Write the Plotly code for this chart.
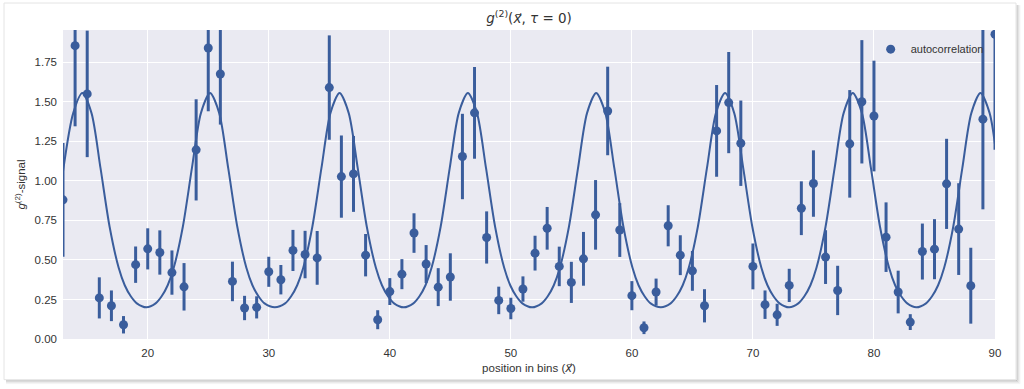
import plotly.graph_objects as go

# measured autocorrelation
positions = list(range(13, 91))
g2_values = [0.88, 1.855, 1.55, 0.26, 0.21, 0.09, 0.47, 0.57, 0.547, 0.42,
             0.33, 1.196, 1.84, 1.676, 0.364, 0.196, 0.20, 0.425, 0.375, 0.56,
             0.534, 0.513, 1.59, 1.027, 1.044, 0.53, 0.122, 0.30, 0.41, 0.67,
             0.474, 0.328, 0.392, 1.154, 1.43, 0.642, 0.244, 0.193, 0.316, 0.543,
             0.70, 0.459, 0.358, 0.507, 0.785, 1.442, 0.689, 0.274, 0.071, 0.297,
             0.716, 0.53, 0.431, 0.21, 1.316, 1.495, 1.238, 0.459, 0.217, 0.153,
             0.339, 0.827, 0.983, 0.518, 0.307, 1.234, 1.50, 1.41, 0.644, 0.297,
             0.107, 0.553, 0.568, 0.981, 0.695, 0.337, 1.39, 1.927]
g2_errors = [0.36, 0.51, 0.40, 0.13, 0.097, 0.055, 0.115, 0.13, 0.14, 0.14,
             0.15, 0.32, 0.40, 0.32, 0.125, 0.077, 0.07, 0.095, 0.093, 0.13,
             0.15, 0.17, 0.33, 0.26, 0.24, 0.134, 0.06, 0.085, 0.095, 0.125,
             0.12, 0.12, 0.15, 0.27, 0.29, 0.165, 0.087, 0.068, 0.08, 0.11,
             0.135, 0.125, 0.13, 0.17, 0.22, 0.28, 0.17, 0.092, 0.04, 0.085,
             0.13, 0.126, 0.126, 0.105, 0.29, 0.32, 0.27, 0.145, 0.09, 0.07,
             0.105, 0.17, 0.21, 0.17, 0.156, 0.34, 0.39, 0.35, 0.22, 0.135,
             0.05, 0.177, 0.19, 0.285, 0.29, 0.24, 0.57, 0.73]

# fitted curve
fit_x = [13.0, 13.85, 14.6, 15.35, 16.1, 16.85, 17.6, 18.1, 18.6, 19.1, 19.9,
         20.65, 21.15, 21.65, 22.15, 22.9, 23.65, 24.4, 25.15, 25.9, 26.65, 27.4, 28.15, 28.65, 29.15, 29.65, 30.5,
         31.35, 31.85, 32.35, 32.85, 33.6, 34.35, 35.1, 35.85, 36.6, 37.35, 38.1, 38.85, 39.35, 39.85, 40.35, 41.15,
         41.95, 42.45, 42.95, 43.45, 44.2, 44.95, 45.7, 46.45, 47.2, 47.95, 48.7, 49.45, 49.95, 50.45, 50.95, 51.75,
         52.55, 53.05, 53.55, 54.05, 54.8, 55.55, 56.3, 57.05, 57.8, 58.55, 59.3, 60.05, 60.55, 61.05, 61.55, 62.4,
         63.2, 63.7, 64.2, 64.7, 65.45, 66.2, 66.95, 67.7, 68.45, 69.2, 69.95, 70.7, 71.2, 71.7, 72.2, 73.0,
         73.75, 74.25, 74.75, 75.25, 76.0, 76.75, 77.5, 78.25, 79.0, 79.75, 80.5, 81.25, 81.75, 82.25, 82.75, 83.5,
         84.3, 84.8, 85.3, 85.8, 86.55, 87.3, 88.05, 88.8, 89.55, 90.0]
fit_y = [1.06, 1.43, 1.555, 1.43, 1.08, 0.71, 0.45, 0.34, 0.27, 0.225, 0.20,
         0.225, 0.27, 0.34, 0.45, 0.71, 1.08, 1.43, 1.555, 1.43, 1.08, 0.71, 0.45, 0.34, 0.27, 0.225, 0.20,
         0.225, 0.27, 0.34, 0.45, 0.71, 1.08, 1.43, 1.555, 1.43, 1.08, 0.71, 0.45, 0.34, 0.27, 0.225, 0.20,
         0.225, 0.27, 0.34, 0.45, 0.71, 1.08, 1.43, 1.555, 1.43, 1.08, 0.71, 0.45, 0.34, 0.27, 0.225, 0.20,
         0.225, 0.27, 0.34, 0.45, 0.71, 1.08, 1.43, 1.555, 1.43, 1.08, 0.71, 0.45, 0.34, 0.27, 0.225, 0.20,
         0.225, 0.27, 0.34, 0.45, 0.71, 1.08, 1.43, 1.555, 1.43, 1.08, 0.71, 0.45, 0.34, 0.27, 0.225, 0.20,
         0.225, 0.27, 0.34, 0.45, 0.71, 1.08, 1.43, 1.555, 1.43, 1.08, 0.71, 0.45, 0.34, 0.27, 0.225, 0.20,
         0.225, 0.27, 0.34, 0.45, 0.71, 1.08, 1.43, 1.555, 1.43, 1.23]

x_ticks = [20, 30, 40, 50, 60, 70, 80, 90]
y_ticks = [0.0, 0.25, 0.5, 0.75, 1.0, 1.25, 1.5, 1.75]

blue = "#3a5d9c"
font_fam = "Liberation Sans, Arial, sans-serif"
vec_x = '<span style="font-family:DejaVu Sans"><i>x⃗</i></span>'

fig = go.Figure()
fig.add_trace(go.Scatter(
    x=fit_x, y=fit_y, mode="lines", line=dict(color=blue, width=2, shape="spline", smoothing=0.8),
    showlegend=False, hoverinfo="skip"))
fig.add_trace(go.Scatter(
    x=positions, y=g2_values, mode="markers", name="autocorrelation",
    marker=dict(color=blue, size=9),
    error_y=dict(type="data", array=g2_errors, visible=True, color=blue, thickness=3, width=0)))

# card frame drawn outside the plot area (paper coordinates relative to plot area)
px0, px1 = 63.0, 995.0
py0, py1 = 30.0, 339.3
def fx(px):
    return (px - px0) / (px1 - px0)
def fy(py):
    return (py1 - py) / (py1 - py0)

cl, cr, ct, cb = 4, 1016, 3, 380
shapes = []
for off, col in [(1, "rgba(0,0,0,0.22)"), (2, "rgba(0,0,0,0.14)"), (3, "rgba(0,0,0,0.08)"), (4, "rgba(0,0,0,0.04)")]:
    shapes.append(dict(type="line", xref="paper", yref="paper", layer="above",
                       x0=fx(cl + 2), x1=fx(cr + off), y0=fy(cb + off), y1=fy(cb + off),
                       line=dict(width=1, color=col)))
    shapes.append(dict(type="line", xref="paper", yref="paper", layer="above",
                       x0=fx(cr + off), x1=fx(cr + off), y0=fy(ct + 2), y1=fy(cb + off),
                       line=dict(width=1, color=col)))
shapes.append(dict(type="rect", xref="paper", yref="paper", layer="above",
                   x0=fx(cl), x1=fx(cr), y0=fy(cb), y1=fy(ct),
                   line=dict(width=1, color="#e4e4e4"), fillcolor="rgba(0,0,0,0)"))

fig.update_layout(
    width=1024, height=389,
    margin=dict(l=63, r=29, t=30, b=50),
    paper_bgcolor="white",
    plot_bgcolor="#eaeaf2",
    font=dict(family=font_fam, size=11.5, color="#333333"),
    title=dict(text="<i>g</i><sup>(2)</sup>(<i>x⃗</i>, <i>τ</i> = 0)", x=529 / 1024, xanchor="center",
               y=1 - 18 / 389, yanchor="middle",
               font=dict(family="DejaVu Sans, sans-serif", size=13.5, color="#333333")),
    xaxis=dict(range=[13, 90], tickvals=x_ticks, ticktext=[str(t) for t in x_ticks],
               showgrid=True, gridcolor="white", gridwidth=1.3, zeroline=False, showline=False,
               ticks="", ticklabelstandoff=5,
               title=dict(text="position in bins (" + vec_x + ")", standoff=6, font=dict(size=11.5))),
    yaxis=dict(range=[0, 1.954], tickvals=y_ticks, ticktext=["%.2f" % t for t in y_ticks],
               showgrid=True, gridcolor="white", gridwidth=1.3, zeroline=False, showline=False,
               ticks="", ticklabelstandoff=5,
               title=dict(text="<i>g</i><sup>(2)</sup>-signal", standoff=6, font=dict(size=11.5))),
    legend=dict(x=0.8666, y=0.985, xanchor="left", yanchor="top", bgcolor="rgba(0,0,0,0)",
                font=dict(size=11, color="#333333")),
    shapes=shapes,
)

fig.write_html("out.html", config={"displayModeBar": False},
               post_script="document.body.style.margin='0';document.body.style.padding='0';")
